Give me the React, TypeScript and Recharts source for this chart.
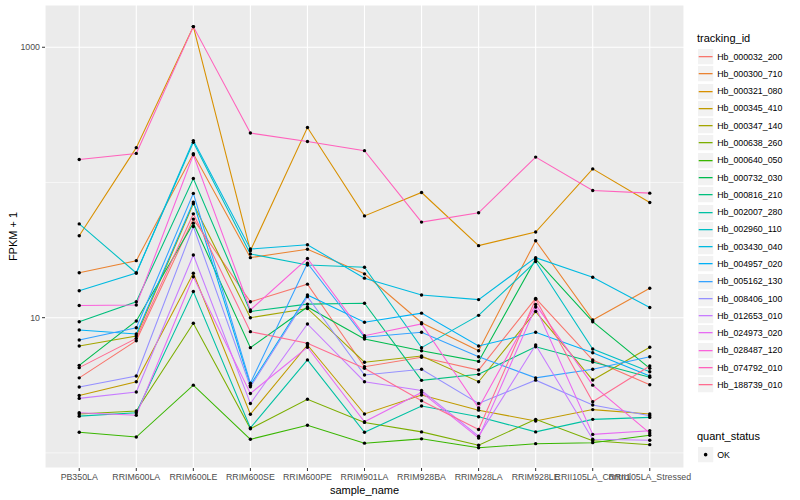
import React from "react";
import {
  LineChart,
  Line,
  XAxis,
  YAxis,
  CartesianGrid,
  ReferenceLine,
} from "recharts";

// sample names along the x axis
const categories = [
  "PB350LA",
  "RRIM600LA",
  "RRIM600LE",
  "RRIM600SE",
  "RRIM600PE",
  "RRIM901LA",
  "RRIM928BA",
  "RRIM928LA",
  "RRIM928LE",
  "RRII105LA_Control",
  "RRII105LA_Stressed",
];

// FPKM + 1 per transcript, one value per sample
const hb000032_200 = [3.59, 6.75, 53.6, 13.1, 17.7, 4.34, 5.1, 4.1, 13.9, 4.86, 3.19];
const hb000300_710 = [21.5, 26.4, 163, 27.8, 32.1, 21.1, 9.18, 5.7, 37.1, 9.6, 16.5];
const hb000321_080 = [40.4, 181, 1422, 31.3, 255, 56.6, 84.3, 34.1, 43, 126, 71.1];
const hb000345_410 = [2.66, 3.36, 21.3, 1.93, 6.28, 1.94, 2.68, 2.07, 1.72, 2.09, 1.94];
const hb000347_140 = [6.17, 7.32, 69.5, 10.0, 11.7, 4.68, 5.2, 3.36, 11.1, 3.46, 6.04];
const hb000638_260 = [1.94, 2.04, 9.1, 1.51, 2.49, 1.68, 1.43, 1.14, 1.77, 1.23, 1.15];
const hb000640_050 = [1.42, 1.31, 3.17, 1.26, 1.6, 1.18, 1.27, 1.09, 1.17, 1.19, 1.35];
const hb000732_030 = [4.44, 9.45, 50.0, 6.0, 12.0, 6.95, 5.7, 4.75, 27.1, 9.34, 4.22];
const hb000816_210 = [9.34, 13.1, 107, 11.1, 12.6, 12.8, 3.44, 3.81, 6.1, 4.7, 3.62];
const hb002007_280 = [1.87, 1.98, 15.6, 1.53, 4.87, 1.42, 2.22, 1.85, 1.43, 1.77, 1.83];
const hb002960_110 = [49.4, 21.4, 198, 29.6, 24.5, 23.6, 6.0, 10.4, 26.0, 5.86, 3.98];
const hb003430_040 = [15.8, 21.4, 204, 32.2, 34.6, 19.6, 14.7, 13.6, 27.8, 19.9, 11.9];
const hb004957_020 = [8.11, 7.57, 71.6, 3.17, 14.7, 9.25, 10.8, 6.17, 7.8, 5.5, 3.7];
const hb005162_130 = [6.84, 8.43, 83, 3.28, 25.3, 7.16, 7.8, 5.14, 3.59, 4.15, 5.14];
const hb008406_100 = [3.07, 3.7, 47.2, 3.08, 14.3, 3.77, 4.15, 2.32, 3.45, 2.26, 1.88];
const hb012653_010 = [2.53, 2.82, 29.1, 2.32, 8.98, 3.36, 2.89, 1.33, 6.28, 1.26, 1.24];
const hb024973_020 = [1.98, 1.9, 20.1, 2.75, 6.04, 1.7, 2.8, 1.29, 12.0, 1.37, 1.46];
const hb028487_120 = [12.3, 12.4, 160, 11.4, 27.4, 7.36, 9.0, 2.15, 12.5, 3.17, 1.4];
const hb074792_010 = [148, 164, 1422, 232, 201, 172, 50.9, 59.7, 154, 87.3, 83.4];
const hb188739_010 = [4.27, 7.03, 58.6, 7.88, 6.46, 4.22, 2.43, 1.49, 13.7, 2.39, 4.39];

const trackingIds = [
  "Hb_000032_200",
  "Hb_000300_710",
  "Hb_000321_080",
  "Hb_000345_410",
  "Hb_000347_140",
  "Hb_000638_260",
  "Hb_000640_050",
  "Hb_000732_030",
  "Hb_000816_210",
  "Hb_002007_280",
  "Hb_002960_110",
  "Hb_003430_040",
  "Hb_004957_020",
  "Hb_005162_130",
  "Hb_008406_100",
  "Hb_012653_010",
  "Hb_024973_020",
  "Hb_028487_120",
  "Hb_074792_010",
  "Hb_188739_010",
];

const seriesValues = [
  hb000032_200, hb000300_710, hb000321_080, hb000345_410, hb000347_140,
  hb000638_260, hb000640_050, hb000732_030, hb000816_210, hb002007_280,
  hb002960_110, hb003430_040, hb004957_020, hb005162_130, hb008406_100,
  hb012653_010, hb024973_020, hb028487_120, hb074792_010, hb188739_010,
];

// ggplot2 default hue palette for 20 levels
const palette = [
  "#F8766D", "#EA8331", "#D89000", "#C09B00", "#A3A500",
  "#7CAE00", "#39B600", "#00BB4E", "#00BF7D", "#00C1A3",
  "#00BFC4", "#00BAE0", "#00B0F6", "#35A2FF", "#9590FF",
  "#C77CFF", "#E76BF3", "#FA62DB", "#FF62BC", "#FF6C90",
];

const yTicks = [10, 1000];
const yMinor = [1, 100];

const FONT = "'Liberation Sans', Arial, Helvetica, sans-serif";

const rows = categories.map((name, i) => {
  const row: Record<string, number | string> = { x: i, name };
  trackingIds.forEach((id, s) => {
    row[id] = seriesValues[s][i];
  });
  return row;
});

const KEY = 17.28;

// one grey legend key, with either a line or a dot inside
const LegendKey: React.FC<{ color?: string; dot?: boolean }> = ({ color, dot }) => (
  <svg width={KEY} height={KEY} style={{ display: "block" }}>
    <rect x={0.5} y={0.5} width={KEY - 1} height={KEY - 1} fill="#F2F2F2" stroke="#FFFFFF" strokeWidth={1} />
    {dot ? (
      <circle cx={KEY / 2} cy={KEY / 2} r={1.8} fill="#000" />
    ) : (
      <line x1={1.7} x2={KEY - 1.7} y1={KEY / 2} y2={KEY / 2} stroke={color} strokeWidth={1.3} />
    )}
  </svg>
);

const LegendBlock: React.FC = () => (
  <div
    style={{
      position: "absolute",
      left: 697,
      top: 0,
      fontFamily: FONT,
      color: "#000",
    }}
  >
    <div style={{ position: "absolute", top: 32, left: 0, fontSize: 11, whiteSpace: "nowrap" }}>
      tracking_id
    </div>
    {trackingIds.map((id, i) => (
      <div
        key={id}
        style={{ position: "absolute", top: 48 + i * KEY, left: 0, height: KEY, display: "flex", alignItems: "center" }}
      >
        <LegendKey color={palette[i]} />
        <span style={{ fontSize: 8.8, marginLeft: 3, whiteSpace: "nowrap" }}>{id}</span>
      </div>
    ))}
    <div style={{ position: "absolute", top: 430, left: 0, fontSize: 11, whiteSpace: "nowrap" }}>
      quant_status
    </div>
    <div style={{ position: "absolute", top: 446, left: 0, height: KEY, display: "flex", alignItems: "center" }}>
      <LegendKey dot />
      <span style={{ fontSize: 8.8, marginLeft: 3 }}>OK</span>
    </div>
  </div>
);

export default function App() {
  return (
    <div
      style={{
        position: "absolute",
        left: 0,
        top: 0,
        width: 800,
        height: 500,
        background: "#fff",
        fontFamily: FONT,
      }}
    >
      <LineChart
        width={800}
        height={500}
        data={rows}
        margin={{ top: 5, right: 116, bottom: 0, left: 5 }}
      >
        <CartesianGrid fill="#EBEBEB" stroke="#FFFFFF" strokeWidth={1.1} />
        {yMinor.map((v) => (
          <ReferenceLine key={v} y={v} stroke="#FFFFFF" strokeWidth={0.55} />
        ))}
        <XAxis
          type="number"
          dataKey="x"
          domain={[-0.6, 10.6]}
          ticks={categories.map((_, i) => i)}
          tickFormatter={(v: number) => categories[v]}
          interval={0}
          allowDataOverflow
          axisLine={false}
          tickLine={{ stroke: "#333333" }}
          tickSize={3}
          tickMargin={3}
          height={32}
          tick={{ fontSize: 8.8, fill: "#4D4D4D", fontFamily: FONT }}
          label={{
            value: "sample_name",
            position: "insideBottom",
            offset: 6,
            style: { fontSize: 11, fill: "#000", fontFamily: FONT },
          }}
        />
        <YAxis
          type="number"
          scale="log"
          domain={[0.773, 2054]}
          ticks={yTicks}
          allowDataOverflow
          axisLine={false}
          tickLine={{ stroke: "#333333" }}
          tickSize={3}
          tickMargin={2}
          width={40}
          tick={{ fontSize: 8.8, fill: "#4D4D4D", fontFamily: FONT }}
          label={{
            value: "FPKM + 1",
            angle: -90,
            position: "insideLeft",
            offset: 8,
            style: { fontSize: 11, fill: "#000", fontFamily: FONT, textAnchor: "middle" },
          }}
        />
        {trackingIds.map((id, i) => (
          <Line
            key={id}
            type="linear"
            dataKey={id}
            stroke={palette[i]}
            strokeWidth={1.07}
            dot={{ r: 1.7, fill: "#000", stroke: "#000", strokeWidth: 0 }}
            activeDot={false}
            isAnimationActive={false}
          />
        ))}
      </LineChart>
      <LegendBlock />
    </div>
  );
}
